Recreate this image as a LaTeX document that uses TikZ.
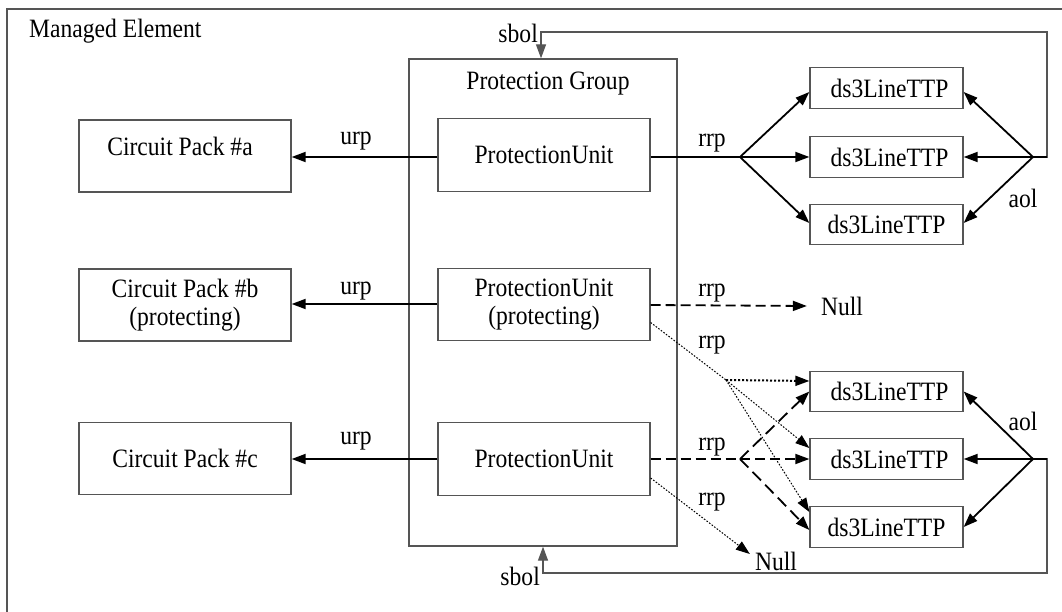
\documentclass[tikz,border=0pt]{standalone}
\usepackage{fontspec}
\setmainfont[FakeStretch=0.89]{Liberation Serif}
\usetikzlibrary{arrows.meta}
\definecolor{bgray}{RGB}{85,85,85}
\begin{document}
\begin{tikzpicture}[x=1pt,y=-1pt,
  font=\fontsize{26.5}{28}\selectfont,
  box/.style={draw=bgray, line width=1.3pt, inner sep=0pt, align=center},
  ds/.style={box, minimum width=153pt, minimum height=40.5pt},
  pubox/.style={box, minimum width=212pt, minimum height=72.5pt},
  lbl/.style={inner sep=0pt},
  ln/.style={line width=1.8pt},
  tip/.style={-{Triangle[length=14pt,width=10pt]}},
  arr/.style={ln, tip},
  dsh/.style={dash pattern=on 10pt off 5pt},
  ldsh/.style={dash pattern=on 12pt off 6pt},
  dot/.style={line width=1pt, dash pattern=on 1.6pt off 1.6pt},
  bdot/.style={line width=2pt, dash pattern=on 2pt off 2pt},
  fb/.style={draw=bgray, line width=1.3pt}]
\useasboundingbox (0,0) rectangle (1062,612);

% managed element frame (cut by the picture's edges)
\draw[fb, line width=1.6pt] (7,612) -- (7,9) -- (1062,9);
\node[lbl, anchor=west] (me) at (29,31) {Managed Element};

% protection group
\node[box, minimum width=268pt, minimum height=487pt] (pg) at (543,302.5) {};
\node[lbl] (pgt) at (548,84) {Protection Group};

% protection units
\node[pubox] (pu1) at (544,155) {ProtectionUnit};
\node[pubox] (pu2) at (544,304.5) {ProtectionUnit\\(protecting)};
\node[pubox] (pu3) at (544,459) {ProtectionUnit};

% circuit packs
\node[box, minimum width=212pt, minimum height=72pt] (cpa) at (185,156) {};
\node[lbl] (cpat) at (180,146) {Circuit Pack \#a};
\node[box, minimum width=212pt, minimum height=72pt] (cpb) at (185,305) {Circuit Pack \#b\\(protecting)};
\node[box, minimum width=212pt, minimum height=72pt] (cpc) at (185,458.5) {Circuit Pack \#c};

% ds3 line TTPs
\node[ds] (t1) at (886.5,88) {\hspace*{6pt}ds3LineTTP};
\node[ds] (t2) at (886.5,157) {\hspace*{6pt}ds3LineTTP};
\node[ds] (t3) at (886.5,224.5) {ds3LineTTP};
\node[ds] (l1) at (886.5,391.5) {\hspace*{6pt}ds3LineTTP};
\node[ds] (l2) at (886.5,459) {\hspace*{6pt}ds3LineTTP};
\node[ds] (l3) at (886.5,527) {ds3LineTTP};

% Null nodes
\node[lbl] (n1) at (842,306) {Null};
\node[lbl] (n2) at (776,561) {Null};

% labels
\node[lbl] (urp1) at (356,141) {urp};
\node[lbl] (urp2) at (356,291) {urp};
\node[lbl] (urp3) at (356,441) {urp};
\node[lbl] (rrp1) at (712,143) {rrp};
\node[lbl] (rrp2) at (712,293) {rrp};
\node[lbl] (rrp3) at (712,345) {rrp};
\node[lbl] (rrp4) at (712,447) {rrp};
\node[lbl] (rrp5) at (712,502) {rrp};
\node[lbl] (aol1) at (1023,198) {aol};
\node[lbl] (aol2) at (1023,421) {aol};
\node[lbl, anchor=east] (sbol1) at (538,33) {sbol};
\node[lbl, anchor=east] (sbol2) at (540,576) {sbol};

% branch points
\coordinate (b1) at (740,157);
\coordinate (a1) at (1033,157);
\coordinate (d1) at (726,380);
\coordinate (b3) at (740,459);
\coordinate (a2) at (1033,459);

% urp connectors
\draw[arr] (pu1.west |- 0,157) -- (cpa.east |- 0,157);
\draw[arr] (pu2.west |- 0,304) -- (cpb.east |- 0,304);
\draw[arr] (pu3.west) -- (cpc.east |- pu3.west);

% rrp top group
\draw[ln] (pu1.east |- b1) -- (b1);
\draw[arr] (b1) -- ([yshift=-4pt]t1.west);
\draw[arr] (b1) -- (t2.west);
\draw[arr] (b1) -- ([yshift=1.5pt]t3.west);

% aol top group
\draw[arr] (a1) -- ([yshift=-4pt]t1.east);
\draw[arr] (a1) -- (t2.east);
\draw[arr] (a1) -- ([yshift=1.5pt]t3.east);

% sbol top
\draw[fb, tip] (a1) -- (1047,157) -- (1047,32) -- ([xshift=-2pt]pg.north |- 0,32) -- ([xshift=-2pt]pg.north);
\draw[ln] (a1) -- (1047,157);

% protecting unit: dashed to Null
\draw[arr, dsh] (pu2.east |- 0,305) -- ([xshift=-14pt]n1.west);
% protecting unit: dotted to lower TTPs
\draw[dot] ([yshift=-18pt]pu2.east) -- (d1);
\draw[bdot, tip] (d1) -- ([yshift=10.5pt]l1.west);
\draw[dot, tip] (d1) -- ([yshift=11pt]l2.west);
\draw[dot, tip] (d1) -- ([yshift=15pt]l3.west);

% third unit: dashed to lower TTPs
\draw[ln, dsh] (pu3.east) -- (b3);
\draw[arr, ldsh] (b3) -- (l1.west);
\draw[arr, dsh] (b3) -- (l2.west);
\draw[arr, ldsh] (b3) -- ([yshift=-3pt]l3.west);
% third unit: dotted to Null
\draw[dot, tip] ([yshift=-19pt]pu3.east) -- ([xshift=-5pt,yshift=7pt]n2.west);

% aol lower group
\draw[arr] (a2) -- (l1.east);
\draw[arr] (a2) -- (l2.east);
\draw[arr] (a2) -- (l3.east);

% sbol bottom
\draw[fb, tip] (a2) -- (1047,459) -- (1047,573) -- (pg.south |- 0,573) -- (pg.south);
\draw[ln] (a2) -- (1047,459);
\end{tikzpicture}
\end{document}
